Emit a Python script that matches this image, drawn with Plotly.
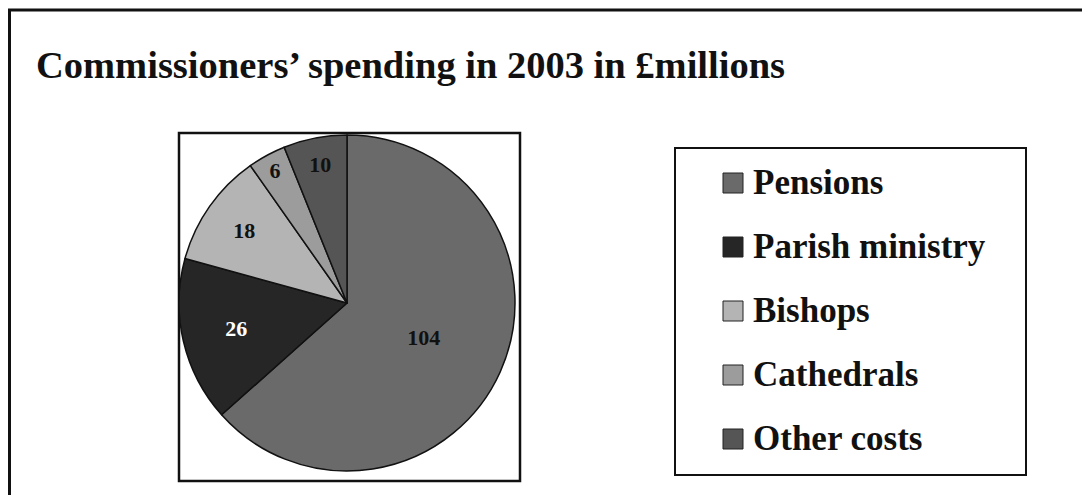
import plotly.graph_objects as go

categories = ["Pensions", "Parish ministry", "Bishops", "Cathedrals", "Other costs"]
values = [104, 26, 18, 6, 10]
colors = ["#6a6a6a", "#262626", "#b4b4b4", "#9c9c9c", "#555555"]
text_colors = ["#111111", "#ffffff", "#111111", "#111111", "#111111"]
title_text = "Commissioners\u2019 spending in 2003 in \u00a3millions"

# page has an 8px body margin; figure fills the rest of the 1090x495 window
OFF = 8
W, H = 1090 - OFF, 495 - OFF
SERIF = "Liberation Serif, Times New Roman, serif"

def px(x):
    return (x - OFF) / W

def py(y):
    return 1 - (y - OFF) / H

fig = go.Figure()
fig.add_trace(go.Pie(
    labels=categories,
    values=values,
    sort=False,
    direction="clockwise",
    rotation=0,
    marker=dict(colors=colors, line=dict(color="#111111", width=1.5)),
    textinfo="value",
    textposition="inside",
    insidetextorientation="horizontal",
    texttemplate="<b>%{value}</b>",
    textfont=dict(family=SERIF, size=22, color=text_colors),
    domain=dict(x=[px(179), px(515)], y=[py(471), py(135)]),
    showlegend=False,
    hoverinfo="label+value",
))

shapes = [
    # outer frame
    dict(type="rect", xref="paper", yref="paper", x0=px(9.5), x1=px(1100), y0=py(505), y1=py(10),
         line=dict(color="#111111", width=3), fillcolor="rgba(0,0,0,0)"),
    # pie frame
    dict(type="rect", xref="paper", yref="paper", x0=px(179), x1=px(520), y0=py(481), y1=py(133),
         line=dict(color="#111111", width=2.5), fillcolor="rgba(0,0,0,0)", layer="below"),
    # legend frame
    dict(type="rect", xref="paper", yref="paper", x0=px(675), x1=px(1026), y0=py(475), y1=py(148),
         line=dict(color="#111111", width=2), fillcolor="rgba(0,0,0,0)"),
]
annotations = [
    dict(text="<b>" + title_text + "</b>", xref="paper", yref="paper", x=px(34), y=py(65),
         xanchor="left", yanchor="middle", showarrow=False,
         font=dict(family=SERIF, size=38.5, color="#111111")),
]

leg_y0, leg_step = 182, 64
for i, (cat, col) in enumerate(zip(categories, colors)):
    yc = leg_y0 + i * leg_step
    shapes.append(dict(type="rect", xref="paper", yref="paper",
                       x0=px(723), x1=px(743), y0=py(yc + 11), y1=py(yc - 9),
                       line=dict(color="#222222", width=1), fillcolor=col))
    annotations.append(dict(text="<b>" + cat + "</b>", xref="paper", yref="paper", x=px(751), y=py(yc),
                            xanchor="left", yanchor="middle", showarrow=False,
                            font=dict(family=SERIF, size=35, color="#111111")))

fig.update_layout(
    width=W, height=H,
    margin=dict(l=0, r=0, t=0, b=0),
    paper_bgcolor="white",
    plot_bgcolor="white",
    shapes=shapes,
    annotations=annotations,
)

fig.write_html("out.html")
